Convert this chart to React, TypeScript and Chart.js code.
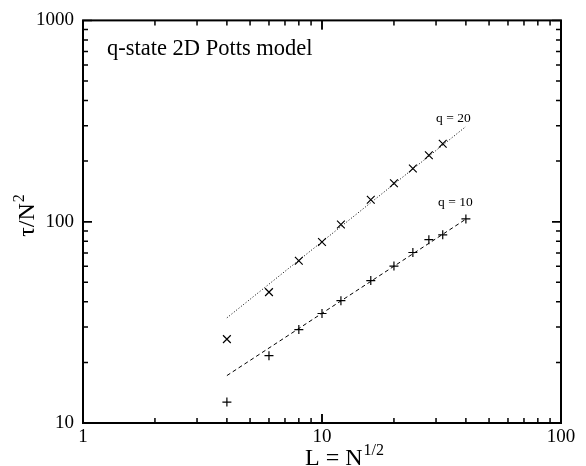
import React, { useEffect, useRef } from "react";
import { Chart, registerables } from "chart.js";

Chart.register(...registerables);

// ---- data ----
const L_VALUES = [4, 6, 8, 10, 12, 16, 20, 24, 28, 32];
const L_VALUES_Q10 = [4, 6, 8, 10, 12, 16, 20, 24, 28, 32, 40];
const TAU_Q20 = [26.1, 44.7, 64.0, 79.3, 96.9, 128.5, 155.2, 183.8, 213.9, 243.9];
const TAU_Q10 = [12.7, 21.6, 29.1, 35.0, 40.5, 51.0, 60.2, 70.3, 81.4, 86.1, 103.2];
const FIT_X = [4, 40];
const FIT_Q20 = [33.3, 297];
const FIT_Q10 = [17.2, 103];
const X_TICKS = [1, 10, 100];
const Y_TICKS = [10, 100, 1000];
const LABEL_Q20 = { text: "q = 20", x: 30, y: 312 };
const LABEL_Q10 = { text: "q = 10", x: 30.6, y: 119 };
const TITLE = "q-state 2D Potts model";

const FONT = "'Liberation Serif', 'DejaVu Serif', serif";

const framePlugin = {
  id: "frame",
  afterDraw(chart: any) {
    const ctx = chart.ctx as CanvasRenderingContext2D;
    const { left, right, top, bottom } = chart.chartArea;
    const xs = chart.scales.x;
    const ys = chart.scales.y;
    ctx.save();
    ctx.strokeStyle = "#000";
    ctx.fillStyle = "#000";
    ctx.lineWidth = 2;
    ctx.strokeRect(left, top, right - left, bottom - top);
    ctx.lineWidth = 1.5;
    // x ticks
    for (let d = 1; d < 100; d *= 10) {
      for (let m = 1; m <= 10; m++) {
        const v = d * m;
        const px = xs.getPixelForValue(v);
        const len = m === 1 || m === 10 ? 9 : 5;
        ctx.beginPath();
        ctx.moveTo(px, bottom);
        ctx.lineTo(px, bottom - len);
        ctx.moveTo(px, top);
        ctx.lineTo(px, top + len);
        ctx.stroke();
      }
    }
    for (let d = 10; d < 1000; d *= 10) {
      for (let m = 1; m <= 10; m++) {
        const v = d * m;
        const py = ys.getPixelForValue(v);
        const len = m === 1 || m === 10 ? 9 : 5;
        ctx.beginPath();
        ctx.moveTo(left, py);
        ctx.lineTo(left + len, py);
        ctx.moveTo(right, py);
        ctx.lineTo(right - len, py);
        ctx.stroke();
      }
    }
    // title inside plot
    ctx.font = `22.5px ${FONT}`;
    ctx.textAlign = "left";
    ctx.textBaseline = "alphabetic";
    ctx.fillText(TITLE, 107, 55);

    // curve labels
    ctx.font = `13.5px ${FONT}`;
    for (const lab of [LABEL_Q20, LABEL_Q10]) {
      ctx.fillText(lab.text, xs.getPixelForValue(lab.x), ys.getPixelForValue(lab.y));
    }

    // x axis title with superscript
    const main = "L = N";
    const sup = "1/2";
    ctx.font = `24px ${FONT}`;
    const wMain = ctx.measureText(main).width;
    ctx.font = `16px ${FONT}`;
    const wSup = ctx.measureText(sup).width;
    const cx = 344;
    const startX = cx - (wMain + wSup) / 2;
    ctx.font = `24px ${FONT}`;
    ctx.fillText(main, startX, 465);
    ctx.font = `16px ${FONT}`;
    ctx.fillText(sup, startX + wMain + 1, 455);

    // y axis title rotated
    ctx.translate(34, 216);
    ctx.rotate(-Math.PI / 2);
    const ym = "\u03c4/N";
    const ysup = "2";
    ctx.font = `24px ${FONT}`;
    const wy = ctx.measureText(ym).width;
    ctx.font = `16px ${FONT}`;
    const wys = ctx.measureText(ysup).width;
    const sx = -(wy + wys) / 2;
    ctx.font = `24px ${FONT}`;
    ctx.fillText(ym, sx, 0);
    ctx.font = `16px ${FONT}`;
    ctx.fillText(ysup, sx + wy + 1, -10);
    ctx.restore();
  },
};

export default function App() {
  const ref = useRef<HTMLCanvasElement | null>(null);
  useEffect(() => {
    if (!ref.current) return;
    const chart = new Chart(ref.current, {
      type: "scatter",
      data: {
        datasets: [
          {
            label: "fit q=20",
            data: FIT_X.map((x, i) => ({ x, y: FIT_Q20[i] })),
            showLine: true,
            borderColor: "#000",
            borderWidth: 1,
            borderDash: [1, 2],
            pointRadius: 0,
          },
          {
            label: "fit q=10",
            data: FIT_X.map((x, i) => ({ x, y: FIT_Q10[i] })),
            showLine: true,
            borderColor: "#000",
            borderWidth: 1,
            borderDash: [4, 3],
            pointRadius: 0,
          },
          {
            label: "q=20",
            data: L_VALUES.map((x, i) => ({ x, y: TAU_Q20[i] })),
            showLine: false,
            pointStyle: "crossRot",
            pointRadius: 5.5,
            borderColor: "#000",
            borderWidth: 1.2,
          },
          {
            label: "q=10",
            data: L_VALUES_Q10.map((x, i) => ({ x, y: TAU_Q10[i] })),
            showLine: false,
            pointStyle: "cross",
            pointRadius: 4.5,
            borderColor: "#000",
            borderWidth: 1.2,
          },
        ],
      },
      options: {
        animation: false,
        responsive: false,
        devicePixelRatio: 1,
        layout: { padding: { top: 16, right: 25, left: 0, bottom: 0 } },
        plugins: { legend: { display: false }, tooltip: { enabled: false } },
        font: { family: FONT } as any,
        scales: {
          x: {
            type: "logarithmic",
            min: 1,
            max: 100,
            grid: { display: false, drawTicks: false, tickLength: 0 },
            border: { display: false },
            afterBuildTicks: (s: any) => {
              s.ticks = X_TICKS.map((v) => ({ value: v }));
            },
            afterFit: (s: any) => {
              s.height = 43;
            },
            ticks: {
              color: "#000",
              padding: 3,
              maxRotation: 0,
              autoSkip: false,
              font: { family: FONT, size: 19 },
              callback: (v: any) => String(v),
            },
          },
          y: {
            type: "logarithmic",
            min: 10,
            max: 1000,
            grid: { display: false, drawTicks: false, tickLength: 0 },
            border: { display: false },
            afterBuildTicks: (s: any) => {
              s.ticks = Y_TICKS.map((v) => ({ value: v }));
            },
            afterFit: (s: any) => {
              s.width = 83;
            },
            ticks: {
              color: "#000",
              padding: 9,
              autoSkip: false,
              font: { family: FONT, size: 19 },
              callback: (v: any) => String(v),
            },
          },
        },
      },
      plugins: [framePlugin],
    });
    return () => chart.destroy();
  }, []);
  return (
    <div style={{ position: "fixed", left: 0, top: 0, width: 586, height: 466, background: "#fff" }}>
      <canvas ref={ref} width={586} height={466} style={{ width: 586, height: 466 }} />
    </div>
  );
}
